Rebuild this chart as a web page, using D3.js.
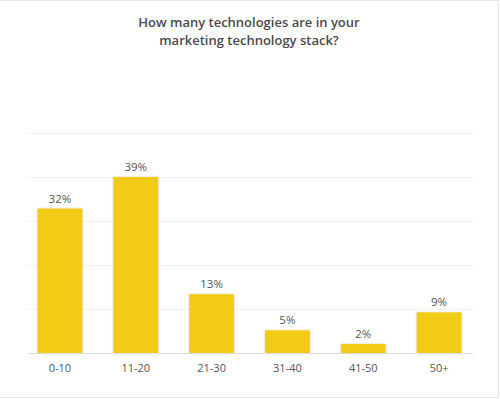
<!DOCTYPE html>
<html>
<head>
<meta charset="utf-8">
<script src="https://cdn.jsdelivr.net/npm/d3@7"></script>
<style>
  html, body { margin: 0; padding: 0; background: #fff; }
  #chart { width: 500px; height: 399px; }
</style>
</head>
<body>
<div id="chart"></div>
<script>
// Data
var categories = ['0-10', '11-20', '21-30', '31-40', '41-50', '50+'];
var values = [32, 39, 13, 5, 2, 9];
var titleLines = ['How many technologies are in your', 'marketing technology stack?'];

var width = 500, height = 399;
var margin = { top: 133, right: 27, bottom: 46, left: 27 };

var svg = d3.select('#chart').append('svg')
    .attr('width', width)
    .attr('height', height);

// frame lines (top, right, bottom)
svg.append('path')
    .attr('d', 'M0,0.5H498.5V397.5H0')
    .attr('fill', 'none')
    .attr('stroke', '#e6e6e6');

// soft shadow for bars
var defs = svg.append('defs');
var f = defs.append('filter').attr('id', 'shadow')
    .attr('x', '-10%').attr('y', '-10%').attr('width', '120%').attr('height', '120%');
f.append('feDropShadow')
    .attr('dx', 0).attr('dy', 0).attr('stdDeviation', 1)
    .attr('flood-color', '#8a6d00').attr('flood-opacity', 0.35);

// title
svg.append('text')
    .attr('x', 249)
    .attr('y', 27)
    .attr('text-anchor', 'middle')
    .style('font-family', '"Open Sans", sans-serif')
    .style('font-weight', 600)
    .style('font-size', '13px')
    .style('fill', '#4a4a4a')
    .selectAll('tspan')
    .data(titleLines)
    .enter().append('tspan')
    .attr('x', 249)
    .attr('dy', function (d, i) { return i === 0 ? 0 : 17.5; })
    .text(function (d) { return d; });

var yMax = d3.max(values) * 1.25;
var x = d3.scaleBand()
    .domain(categories)
    .range([22, 477])
    .paddingInner(0.41)
    .paddingOuter(0.205);
var y = d3.scaleLinear()
    .domain([0, yMax])
    .range([353, 133]);

// gridlines
var gridVals = d3.range(1, 6).map(function (i) { return i * yMax / 5; });
svg.append('g').selectAll('line')
    .data(gridVals)
    .enter().append('line')
    .attr('x1', margin.left).attr('x2', width - margin.right)
    .attr('y1', function (d) { return Math.round(y(d)) + 0.5; })
    .attr('y2', function (d) { return Math.round(y(d)) + 0.5; })
    .attr('stroke', '#f2f2f2');

// bars
svg.append('g').selectAll('rect')
    .data(values)
    .enter().append('rect')
    .attr('x', function (d, i) { return x(categories[i]); })
    .attr('y', function (d) { return y(d); })
    .attr('width', x.bandwidth())
    .attr('height', function (d) { return y(0) - y(d); })
    .attr('fill', '#f2cb16')
    .attr('filter', 'url(#shadow)');

// baseline
svg.append('line')
    .attr('x1', margin.left).attr('x2', width - margin.right)
    .attr('y1', 353.5).attr('y2', 353.5)
    .attr('stroke', '#dcdcdc');

// value labels
svg.append('g').selectAll('text')
    .data(values)
    .enter().append('text')
    .attr('x', function (d, i) { return x(categories[i]) + x.bandwidth() / 2; })
    .attr('y', function (d) { return y(d) - 6; })
    .attr('text-anchor', 'middle')
    .style('font-family', '"Open Sans", sans-serif')
    .style('font-size', '11.5px')
    .style('fill', '#555')
    .text(function (d) { return d + '%'; });

// x axis labels
var xAxis = svg.append('g')
    .attr('transform', 'translate(0,353)')
    .call(d3.axisBottom(x).tickSize(0).tickPadding(11));
xAxis.select('.domain').remove();
xAxis.selectAll('text')
    .style('font-family', '"Open Sans", sans-serif')
    .style('font-size', '11px')
    .style('fill', '#555');
</script>
</body>
</html>
